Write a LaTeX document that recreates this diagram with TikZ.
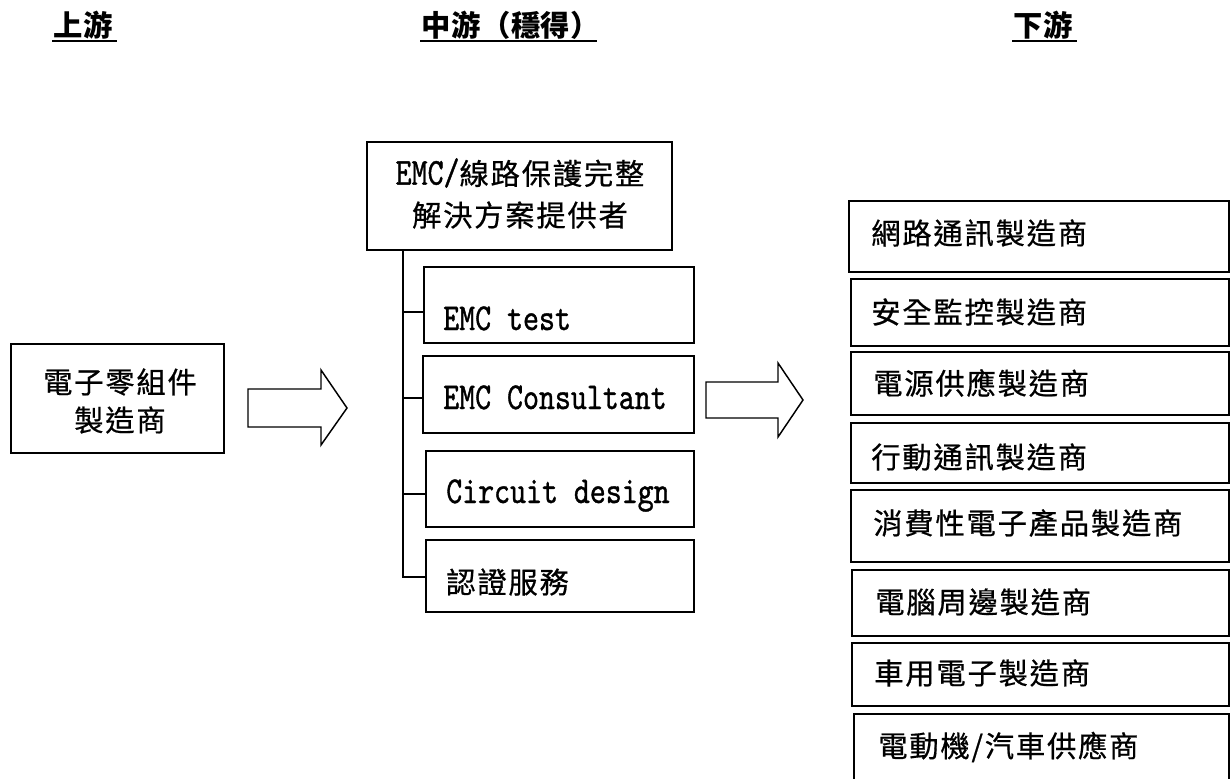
\documentclass[tikz,border=0pt]{standalone}
\usepackage{fontspec}
\setmainfont{Noto Sans CJK TC}[LetterSpace=6,FakeBold=0.6]
\newfontfamily\hdrfont{Noto Sans CJK TC}[LetterSpace=2]
\newfontfamily\latn{lmmono10-regular.otf}[FakeStretch=0.8,FakeBold=1]
\usetikzlibrary{fit}
\tikzset{
  box/.style={draw, line width=1.1pt, inner sep=0pt, fit={#1}},
  cjk/.style={inner sep=0pt, font=\fontsize{22pt}{26pt}\selectfont},
  lat/.style={inner sep=0pt, font=\fontsize{28.5pt}{32pt}\selectfont\latn},
  hdr/.style={inner sep=0pt, font=\fontsize{22pt}{26pt}\selectfont\hdrfont\bfseries},
  link/.style={line width=1.1pt},
  blk/.style={draw, line width=1.1pt, line join=miter, fill=white},
}
\begin{document}
\begin{tikzpicture}[x=0.75pt, y=-0.75pt]
\useasboundingbox (0,0) rectangle (1230,778);
% headers
\node[hdr, anchor=west] (h1) at (53,25) {上游};
\node[hdr, anchor=west] (h2) at (421,25) {中游（穩得）};
\node[hdr, anchor=west] (h3) at (1013,25) {下游};
\draw[line width=1.5pt] (52,41) -- (117,41);
\draw[line width=1.5pt] (420,41) -- (597,41);
\draw[line width=1.5pt] (1012,41) -- (1077,41);
% upstream
\node[box={(11,344) (224,453)}] (up) {};
\node[cjk] (up1) at (120,382) {電子零組件};
\node[cjk] (up2) at (120,420) {製造商};
\draw[blk] (248,389) -- (321,389) -- (321,370) -- (347,408) -- (321,445) -- (321,427) -- (248,427) -- cycle;
% midstream
\node[box={(367,142) (672,250)}] (mid) {};
\node[cjk] (mid1) at (520,173) {{\fontsize{28.5pt}{32pt}\latn EMC/}線路保護完整};
\node[cjk] (mid2) at (520,215) {解決方案提供者};
\node[box={(424,267) (694,343)}] (s1) {};
\node[box={(423,356) (694,433)}] (s2) {};
\node[box={(426,451) (694,527)}] (s3) {};
\node[box={(426,540) (694,612)}] (s4) {};
\node[lat, anchor=base west] (t1) at (443,330) {EMC test};
\node[lat, anchor=base west] (t2) at (443,409) {EMC Consultant};
\node[lat, anchor=base west] (t3) at (446,503) {Circuit design};
\node[cjk, anchor=west] (t4) at (446,582) {認證服務};
\coordinate (sp) at (403,250);
\draw[link] (sp) |- (s4.west |- 0,577);
\draw[link] (sp |- 0,312) -- (s1.west |- 0,312);
\draw[link] (sp |- 0,398) -- (s2.west |- 0,398);
\draw[link] (sp |- 0,494) -- (s3.west |- 0,494);
\draw[blk] (706,382) -- (778,382) -- (778,363) -- (803,400) -- (778,437) -- (778,418) -- (706,418) -- cycle;
% downstream
\node[box={(849,201) (1229,272)}] (r1) {};
\node[box={(851,279) (1229,346)}] (r2) {};
\node[box={(851,352) (1229,415)}] (r3) {};
\node[box={(851,423) (1229,483)}] (r4) {};
\node[box={(851,490) (1229,562)}] (r5) {};
\node[box={(852,570) (1229,636)}] (r6) {};
\node[box={(852,643) (1229,706)}] (r7) {};
\node[box={(854,714) (1229,792)}] (r8) {};
\node[cjk, anchor=west] (d1) at (871,233) {網路通訊製造商};
\node[cjk, anchor=west] (d2) at (871,312) {安全監控製造商};
\node[cjk, anchor=west] (d3) at (873,383) {電源供應製造商};
\node[cjk, anchor=west] (d4) at (871,457) {行動通訊製造商};
\node[cjk, anchor=west] (d5) at (873,523) {消費性電子產品製造商};
\node[cjk, anchor=west] (d6) at (875,602) {電腦周邊製造商};
\node[cjk, anchor=west] (d7) at (874,673) {車用電子製造商};
\node[cjk, anchor=west] (d8) at (878,747) {電動機/汽車供應商};
\end{tikzpicture}
\end{document}
